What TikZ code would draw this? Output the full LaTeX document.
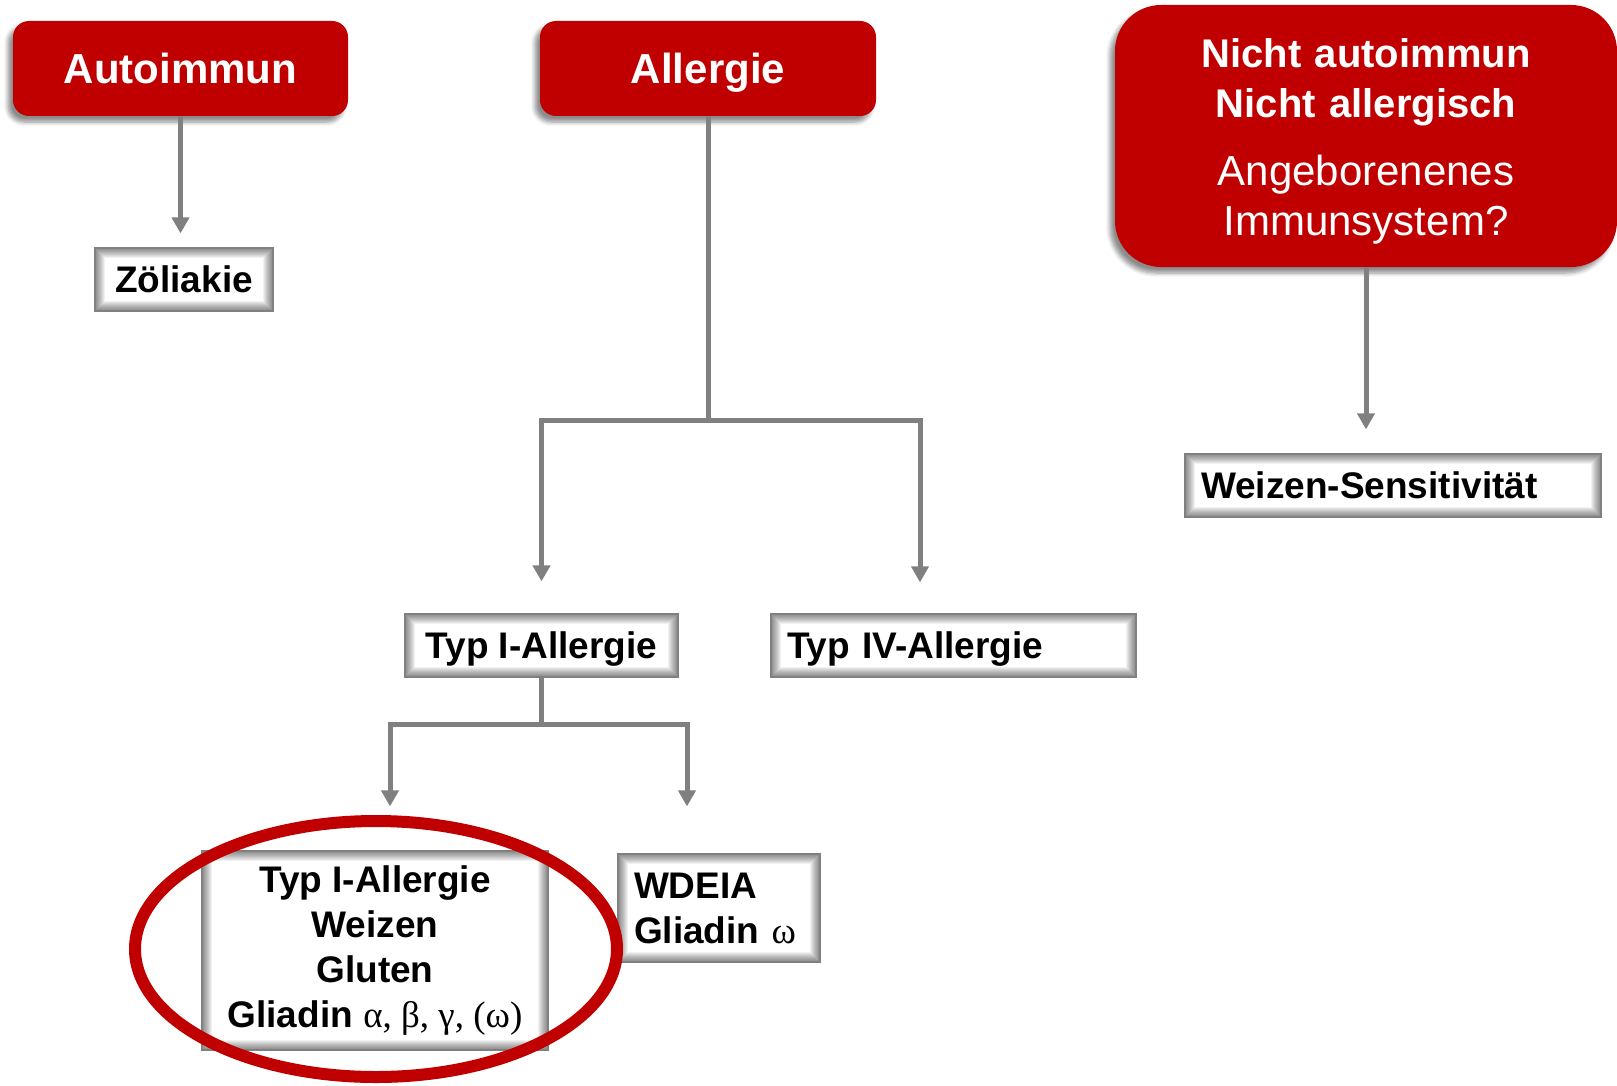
\documentclass[tikz,border=0pt]{standalone}
\usepackage{fontspec}
\setmainfont{Liberation Sans}
\newfontfamily\greekfont{Liberation Serif}
\usetikzlibrary{arrows.meta,shadows.blur}
\definecolor{darkred}{RGB}{192,0,0}

\begin{document}
\begin{tikzpicture}[
  x=0.5pt, y=-0.5pt,
  redbox/.style={rectangle, rounded corners=8pt, fill=darkred, text=white, inner sep=0pt, align=center,
    font=\fontsize{21}{25}\selectfont\bfseries,
    blur shadow={shadow xshift=-2.5pt, shadow yshift=-3pt, shadow opacity=45, shadow blur steps=6}},
  whitebox/.style={rectangle, draw=gray, line width=0.6pt, fill=white, inner sep=0pt, align=center,
    minimum height=31.5pt, font=\fontsize{18.5}{22}\selectfont\bfseries,
    path picture={\foreach \w in {1,...,10}
      \draw[black, opacity=0.055, line width=\w pt] (path picture bounding box.south west) rectangle (path picture bounding box.north east);}},
  leftbox/.style={whitebox, inner xsep=8pt, align=left, text width=#1},
  oneline/.style={text depth=0pt},
  link/.style={draw=gray, line width=2.5pt},
  arr/.style={link, -{Triangle[width=8.5pt,length=8pt]}}
]
\useasboundingbox (0,0) rectangle (1617,1086);

% top row
\node[redbox, oneline, minimum width=167.5pt, minimum height=47.5pt] (auto) at (180.5,68.5) {Autoimmun};
\node[redbox, oneline, minimum width=168pt, minimum height=47.5pt, right of=auto, node distance=263.75pt] (allergie) {Allergie};
\node[redbox, rounded corners=23pt, minimum width=251pt, minimum height=131pt, text width=251pt,
  font=\fontsize{20}{25}\selectfont, right of=allergie, node distance=329pt, yshift=-33.75pt] (nicht)
  {\rule{0pt}{19.5pt}\textbf{Nicht autoimmun\\Nicht allergisch}\\[9pt]{\fontsize{21}{25}\selectfont Angeborenenes\\Immunsystem?}};

% second level
\node[whitebox, oneline, minimum width=89pt, below of=auto, node distance=105.5pt, xshift=1.75pt] (zoel) {Zöliakie};
\node[leftbox=192pt, oneline, below of=nicht, node distance=174.75pt, xshift=13.5pt] (weizen) {Weizen-Sensitivität};
\node[whitebox, oneline, minimum width=136.5pt, below of=allergie, node distance=288.5pt, xshift=-83.25pt] (typ1) {Typ I-Allergie};
\node[leftbox=166.5pt, oneline, right of=typ1, node distance=206pt] (typ4) {Typ IV-Allergie};

% third level
\node[whitebox, minimum width=173pt, minimum height=99.5pt, font=\fontsize{18.5}{22.5}\selectfont\bfseries,
  below of=typ1, node distance=152.5pt, xshift=-83.25pt] (weizentyp)
  {Typ I-Allergie\\Weizen\\Gluten\\Gliadin {\greekfont\mdseries α, β, γ, (ω)}};
\node[leftbox=85pt, minimum height=54pt, font=\fontsize{18.5}{22.5}\selectfont\bfseries,
  right of=weizentyp, node distance=172pt, yshift=21.25pt] (wdeia) {WDEIA\\Gliadin {\greekfont\mdseries ω}};

\draw[arr, shorten >=7pt] (auto.south) -- (auto.south |- zoel.north);
\draw[arr, shorten >=12pt] (nicht.south) -- (nicht.south |- weizen.north);

\coordinate[below of=allergie, node distance=175.75pt] (asplit);
\draw[link] (allergie.south) -- (asplit);
\draw[arr, shorten >=16pt] (asplit) -| (typ1.north);
\draw[arr, shorten >=15.5pt] (asplit) -| ([xshift=-16.75pt]typ4.north);

\coordinate[below of=typ1, node distance=39.25pt] (tsplit);
\draw[link] (typ1.south) -- (tsplit);
\draw[arr, shorten >=22pt] (tsplit) -| ([xshift=7.5pt]weizentyp.north);
\draw[arr, shorten >=23.5pt] (tsplit) -| ([xshift=-16pt]wdeia.north);

% highlight
\draw[darkred, line width=6pt] ([shift={(1,-1.5)}]weizentyp.center) ellipse [x radius=120.5pt, y radius=64pt];
\end{tikzpicture}
\end{document}
